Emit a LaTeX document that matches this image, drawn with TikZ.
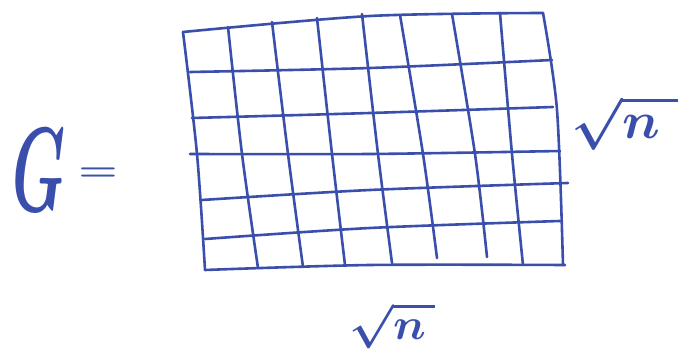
\documentclass[tikz,border=0pt]{standalone}
\usepackage{amsmath}
\usepackage{graphicx}
\definecolor{ink}{RGB}{58,78,172}
\begin{document}
\begin{tikzpicture}[x=1pt,y=-1pt,
  pen/.style={draw=ink,line width=2.6pt,line cap=round,line join=round},
  lbl/.style={text=ink,inner sep=0pt,font=\boldmath}]
\useasboundingbox (0,0) rectangle (678,352);
% outer frame
\draw[pen] plot[smooth] coordinates {(183,32) (370,16) (543,13)};
\draw[pen] plot[smooth] coordinates {(183,32) (197,154) (205,270)};
\draw[pen] plot[smooth] coordinates {(543,13) (557,110) (563,265)};
\draw[pen] plot[smooth] coordinates {(205,270) (370,265) (565,265)};
% vertical lines
\draw[pen] plot[smooth] coordinates {(228,27) (242,154) (258,268)};
\draw[pen] plot[smooth] coordinates {(272,22) (288,154) (303,267)};
\draw[pen] plot[smooth] coordinates {(317,18) (332,154) (345,265)};
\draw[pen] plot[smooth] coordinates {(362,14) (378,154) (392,263)};
\draw[pen] plot[smooth] coordinates {(400,15) (423,154) (437,258)};
\draw[pen] plot[smooth] coordinates {(452,14) (475,154) (487,257)};
\draw[pen] plot[smooth] coordinates {(500,13) (512,154) (523,265)};
% horizontal lines
\draw[pen] plot[smooth] coordinates {(190,72) (370,68) (552,60)};
\draw[pen] plot[smooth] coordinates {(192,118) (370,113) (553,107)};
\draw[pen] plot[smooth] coordinates {(190,154) (370,154) (560,151)};
\draw[pen] plot[smooth] coordinates {(202,200) (370,190) (568,183)};
\draw[pen] plot[smooth] coordinates {(205,239) (370,228) (560,221)};
% labels
\node[lbl] (g) at (39,170) {\scalebox{6}[12]{$G$}};
\node[lbl] (eq) at (98,174) {\scalebox{4.4}[3.2]{$=$}};
\node[lbl] (rn) at (626,123) {\scalebox{5.3}[5.2]{$\sqrt{n\,\,}$}};
\node[lbl] (bn) at (392,326) {\scalebox{4.6}[4.4]{$\sqrt{n\,}$}};
\end{tikzpicture}
\end{document}
